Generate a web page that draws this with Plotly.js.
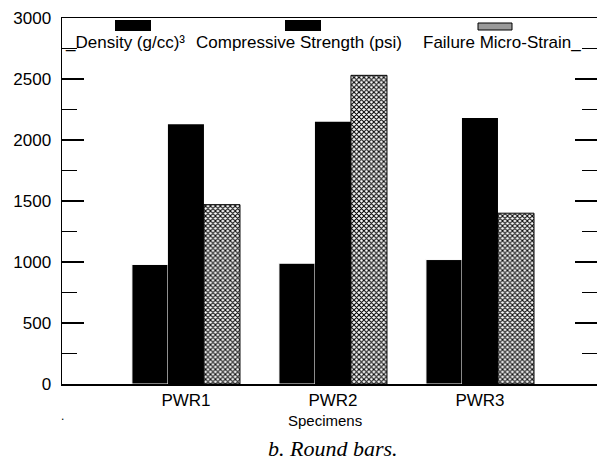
<!DOCTYPE html>
<html>
<head>
<meta charset="utf-8">
<script src="https://cdn.plot.ly/plotly-3.0.1.min.js"></script>
<style>html,body{margin:0;padding:0;background:#fff;}#chart{width:597px;height:474px;}</style>
</head>
<body>
<div id="chart"></div>
<script>
const categories = ["PWR1", "PWR2", "PWR3"];
const density = [980, 990, 1020];
const compressive = [2130, 2150, 2180];
const microStrain = [1470, 2530, 1400];
const seriesNames = ["Density (g/cc)\u00b3", "Compressive Strength (psi)", "Failure Micro-Strain"];
const yTickVals = [0, 500, 1000, 1500, 2000, 2500, 3000];
const xTitle = "Specimens";
const caption = "b. Round bars.";

const font = "Liberation Sans, Arial, sans-serif";
const PL = 62, PT = 18, PW = 535, PH = 366;
const px = x => (x - PL) / PW;
const py = y => (PT + PH - y) / PH;

const traces = [
  {type: "bar", name: seriesNames[0], x: categories, y: density,
   marker: {color: "#000", line: {color: "#fff", width: 1}}},
  {type: "bar", name: seriesNames[1], x: categories, y: compressive,
   marker: {color: "#000", line: {color: "#000", width: 0}}},
  {type: "bar", name: seriesNames[2], x: categories, y: microStrain,
   marker: {color: "#fff", line: {color: "#000", width: 1},
            pattern: {shape: "x", size: 3.5, solidity: 0.5, fgcolor: "#000", bgcolor: "#fff"}}}
];

const layout = {
  width: 597, height: 474,
  margin: {l: PL, r: 0, t: PT, b: 474 - PT - PH},
  paper_bgcolor: "#fff", plot_bgcolor: "#fff",
  showlegend: false,
  barmode: "group", bargap: 0.265, bargroupgap: 0,
  font: {family: font, size: 17, color: "#000"},
  xaxis: {
    type: "category", range: [-0.843, 2.796],
    showline: true, linecolor: "#000", linewidth: 1.5, mirror: true,
    ticks: "", showgrid: false, zeroline: false,
    tickfont: {family: font, size: 17, color: "#000"}
  },
  yaxis: {
    range: [0, 3000], tickvals: yTickVals,
    showline: true, linecolor: "#000", linewidth: 1.5, mirror: "ticks",
    ticks: "inside", ticklen: 22, tickwidth: 1.5, tickcolor: "#000",
    ticklabelstandoff: 6,
    minor: {ticks: "inside", ticklen: 15, tickwidth: 1.5, tickcolor: "#000", dtick: 250, showgrid: false},
    showgrid: false, zeroline: false,
    tickfont: {family: font, size: 17, color: "#000"}
  },
  shapes: [
    {type: "rect", xref: "paper", yref: "paper", x0: px(115), x1: px(151), y0: py(31), y1: py(20),
     fillcolor: "#000", line: {width: 0}},
    {type: "rect", xref: "paper", yref: "paper", x0: px(285), x1: px(321), y0: py(31), y1: py(20),
     fillcolor: "#000", line: {width: 0}},
    {type: "rect", xref: "paper", yref: "paper", x0: px(478), x1: px(512), y0: py(30), y1: py(23),
     fillcolor: "#9a9a9a", line: {color: "#000", width: 1}}
  ],
  annotations: [
    {xref: "paper", yref: "paper", x: px(63), y: py(43), xanchor: "left", yanchor: "middle",
     text: "_" + seriesNames[0], showarrow: false, font: {family: font, size: 17, color: "#000"}},
    {xref: "paper", yref: "paper", x: px(194), y: py(43), xanchor: "left", yanchor: "middle",
     text: seriesNames[1], showarrow: false, font: {family: font, size: 17, color: "#000"}},
    {xref: "paper", yref: "paper", x: px(583), y: py(43), xanchor: "right", yanchor: "middle",
     text: seriesNames[2] + "_", showarrow: false, font: {family: font, size: 17, color: "#000"}},
    {xref: "paper", yref: "paper", x: px(325), y: py(420), xanchor: "center", yanchor: "middle",
     text: xTitle, showarrow: false, font: {family: font, size: 15, color: "#000"}},
    {xref: "paper", yref: "paper", x: px(333), y: py(448), xanchor: "center", yanchor: "middle",
     text: "<i>" + caption + "</i>", showarrow: false,
     font: {family: "Liberation Serif, Times New Roman, serif", size: 22, color: "#000"}},
    {xref: "paper", yref: "paper", x: px(62), y: py(416), xanchor: "center", yanchor: "middle",
     text: ".", showarrow: false, font: {family: font, size: 12, color: "#000"}}
  ]
};

Plotly.newPlot("chart", traces, layout, {displayModeBar: false, staticPlot: true});
</script>
</body>
</html>
